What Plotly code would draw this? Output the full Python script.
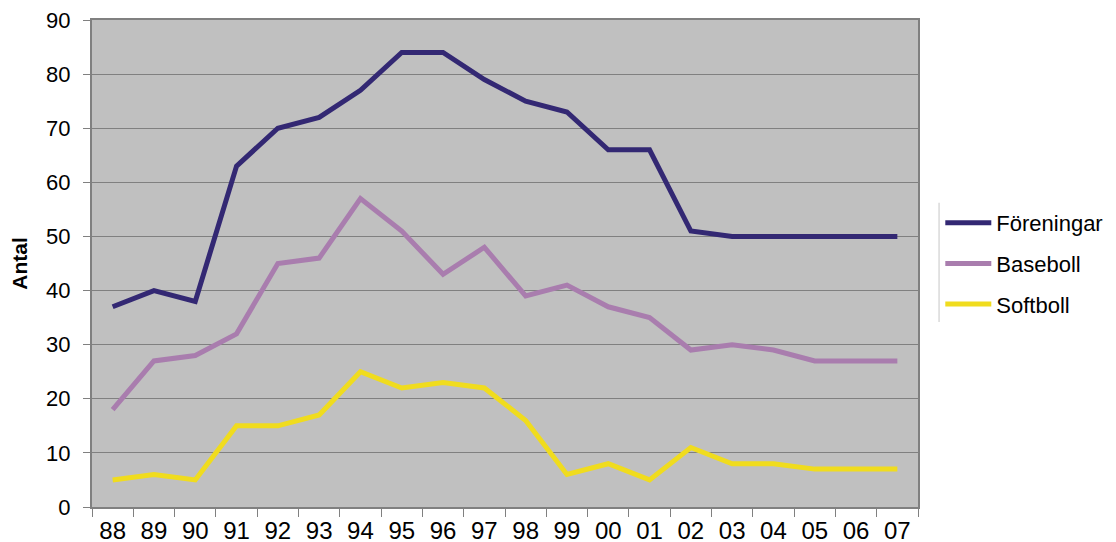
import plotly.graph_objects as go

years = ["88", "89", "90", "91", "92", "93", "94", "95", "96", "97",
         "98", "99", "00", "01", "02", "03", "04", "05", "06", "07"]
foreningar = [37, 40, 38, 63, 70, 72, 77, 84, 84, 79, 75, 73, 66, 66, 51, 50, 50, 50, 50, 50]
baseboll = [18, 27, 28, 32, 45, 46, 57, 51, 43, 48, 39, 41, 37, 35, 29, 30, 29, 27, 27, 27]
softboll = [5, 6, 5, 15, 15, 17, 25, 22, 23, 22, 16, 6, 8, 5, 11, 8, 8, 7, 7, 7]

series = [
    ("Föreningar", foreningar, "#332873", "g1"),
    ("Baseboll", baseboll, "#A97DAE", "g2"),
    ("Softboll", softboll, "#F0DC1E", "g3"),
]

fig = go.Figure()
for name, vals, color, grp in series:
    fig.add_trace(go.Scatter(
        x=years, y=vals, name=name, mode="lines",
        line=dict(color=color, width=5),
        legendgroup=grp,
    ))

font_family = "Liberation Sans, Arial, sans-serif"

fig.update_layout(
    width=1116, height=542,
    margin=dict(l=84, r=206, t=12, b=43, autoexpand=False),
    paper_bgcolor="white",
    plot_bgcolor="#C0C0C0",
    font=dict(family=font_family, color="black", size=22),
    showlegend=True,
    legend=dict(
        x=1.027, y=0.50, xanchor="left", yanchor="middle",
        font=dict(size=22, family=font_family),
        bgcolor="rgba(0,0,0,0)",
        tracegroupgap=9,
        traceorder="grouped",
        itemwidth=46,
    ),
    xaxis=dict(
        type="category",
        tickson="boundaries",
        ticks="outside", ticklen=8, tickcolor="#808080",
        showline=True, linecolor="#808080", linewidth=2, mirror=True,
        showgrid=False,
        tickfont=dict(size=24),
        ticklabelstandoff=1,
        ticklabeloverflow="allow",
        range=[-0.5, 19.5],
        automargin=False,
    ),
    yaxis=dict(
        range=[0, 90], dtick=10,
        ticks="outside", ticklen=7, tickcolor="#808080",
        showline=True, linecolor="#808080", linewidth=2, mirror=True,
        showgrid=True, gridcolor="#808080", gridwidth=1,
        zeroline=False,
        tickfont=dict(size=22),
        ticklabelstandoff=8,
        ticklabeloverflow="allow",
        title=dict(text="<b>Antal</b>", font=dict(size=21), standoff=14),
        automargin=False,
    ),
)

# thin separator line at the legend's left edge
fig.add_shape(type="line", xref="paper", yref="paper",
              x0=1.0255, x1=1.0255, y0=0.38, y1=0.625,
              line=dict(color="#D9D9D9", width=1.5))

fig.write_html("out.html")
